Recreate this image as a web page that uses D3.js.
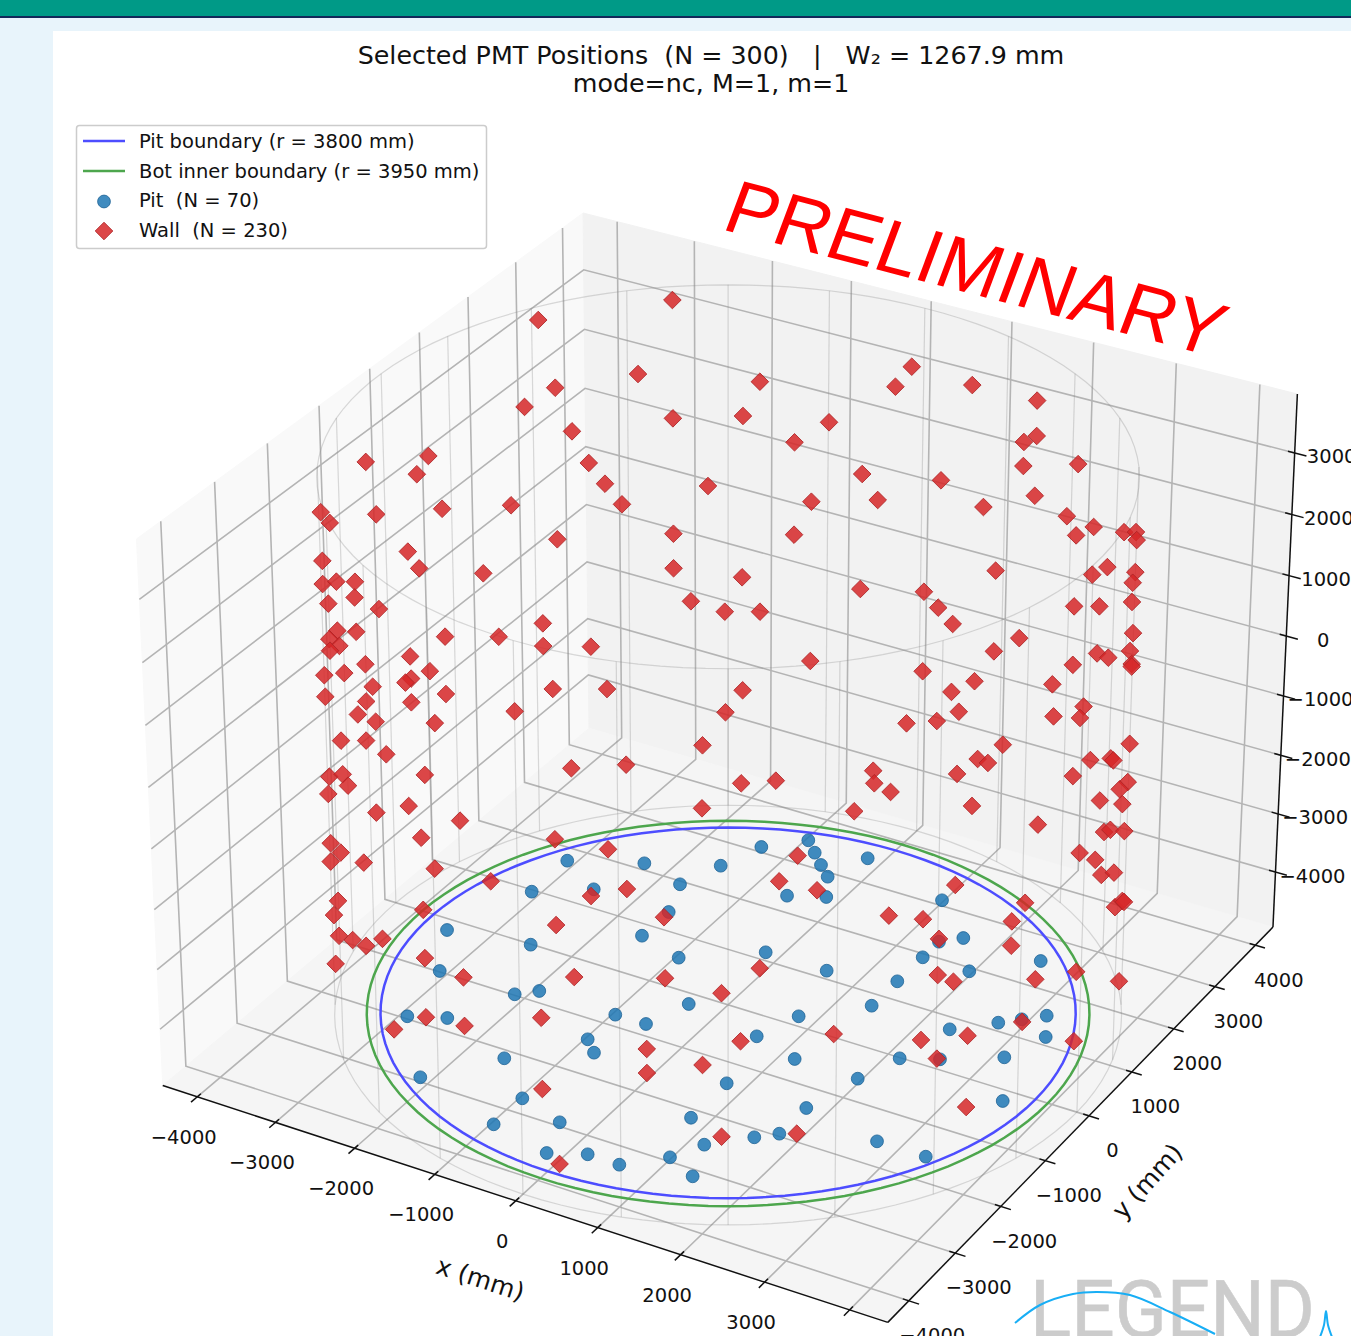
<!DOCTYPE html><html><head><meta charset="utf-8"><script src="https://cdn.jsdelivr.net/npm/d3@7"></script>
<style>html,body{margin:0;padding:0;background:#e8f4fb;overflow:hidden}svg{display:block}text{font-family:"DejaVu Sans",sans-serif;fill:#111}</style></head><body><svg id="c" width="1351" height="1336"></svg>
<script>
const titleLines=["Selected PMT Positions  (N = 300)   |   W₂ = 1267.9 mm","mode=nc, M=1, m=1"];
const legendLabels=["Pit boundary (r = 3800 mm)","Bot inner boundary (r = 3950 mm)","Pit  (N = 70)","Wall  (N = 230)"];
const xTicks=[-4000,-3000,-2000,-1000,0,1000,2000,3000,4000];
const yTicks=[-4000,-3000,-2000,-1000,0,1000,2000,3000,4000];
const zTicks=[-4000,-3000,-2000,-1000,0,1000,2000,3000];
const xyLimits=[-4445,4445];
const zLimits=[-4955,3945];
const pitRadius=3800, botRadius=3950, wallRadius=4300, wallTop=3915;
const pitX=[-967,-769,-575,-384,-182,-577,-1356,-189,-1549,-2324,-1743,-1550,-1551,977,1567,1370,-186,-3109,-3105,-2528,-3493,-2524,-3105,-2136,-1938,-963,-382,-966,-579,-2915,-2518,-969,-771,-1553,-2137,778,-969,-968,-379,787,-191,197,589,980,1172,1370,588,1371,1956,1369,2538,1369,784,590,2338,2732,2921,3123,3315,1172,2148,2535,3118,1953,1758,3511,2726,3315,1560,1756];
const pitY=[3500,3297,3097,2911,2519,2323,3104,3490,2516,2130,1936,1356,771,3106,2515,2311,1155,1743,964,1357,-210,-10,-983,-982,-789,575,-200,-790,-786,-1953,-1765,-1370,-1567,-2148,-2923,-1378,-2729,-3315,-2930,-2154,-3507,-3311,-3315,-2926,-2535,-3119,1156,1932,1932,1352,2516,770,182,-400,773,1156,1345,1546,1157,-591,-12,188,571,-594,-1374,-203,-1563,-1564,-2146,-1953];
const wallAngle=[148.9,133.4,146.3,151.4,143.7,169.5,185.0,172.1,141.1,138.6,136.0,207.0,200.1,182.4,166.9,154.0,146.3,174.6,172.1,159.2,207.0,207.5,197.5,189.7,190.0,202.8,182.4,148.9,166.9,156.6,197.8,189.8,202.9,197.0,202.7,148.9,141.1,174.7,187.0,209.7,195.1,170.3,174.6,176.0,184.9,167.0,187.1,209.2,174.7,147.4,138.6,154.0,190.1,184.3,169.5,197.7,187.5,181.5,144.5,135.7,207.2,197.4,195.0,209.6,172.0,184.9,176.0,164.7,173.2,208.3,199.9,209.3,189.6,170.3,275.9,283.6,265.6,202.8,207.1,252.7,286.2,281.1,275.9,202.9,195.1,237.3,242.5,207.0,252.8,260.4,278.5,128.2,115.3,92.0,94.6,128.2,117.8,104.9,110.1,99.7,86.8,123.0,107.5,97.2,128.2,110.1,128.2,117.9,99.8,89.4,86.9,125.6,120.5,115.2,84.3,81.6,68.8,71.4,68.7,71.4,58.5,68.8,79.1,61.1,53.4,58.5,41.1,31.4,29.6,48.2,53.4,30.3,33.5,76.5,58.5,50.7,33.6,30.8,71.4,76.5,34.0,51.0,46.7,31.3,31.2,58.4,80.1,63.6,54.9,63.1,55.9,107.5,89.4,117.8,84.3,120.4,82.9,92.0,86.8,123.9,97.4,97.2,94.5,83.0,118.0,112.7,296.5,100.4,80.1,309.4,306.9,312.1,332.7,322.4,327.6,330.2,291.3,30.1,74.3,79.2,77.2,52.2,44.2,42.9,57.5,31.4,38.7,48.3,36.4,66.2,46.2,43.3,33.7,54.8,49.4,46.8,40.6,39.3,33.4,31.0,345.6,343.0,343.0,358.5,34.1,348.2,345.6,335.3,358.4,291.4,299.1,252.7,245.0,260.4,273.4,288.8,296.5,288.8,273.4,299.1,275.9,304.3,330.1,332.7,314.6,301.7,327.6,330.2,335.3,309.5];
const wallZ=[3696,2527,2524,2334,1745,2135,2721,1941,1165,772,384,3039,2500,1743,1160,772,-8,770,382,-204,2260,1914,1410,998,755,1339,179,-1372,-985,-1370,624,177,765,330,565,-1761,-1957,-981,-509,557,-224,-1428,-1361,-1364,-994,-1958,-1127,177,-1759,-2542,-2739,-2737,-1186,-1615,-2350,-1205,-1766,-2313,-3999,-4112,-1259,-1787,-2115,-1406,-3129,-3133,-3476,-4246,-4163,-2308,-2966,-2557,-3734,-4841,985,986,16,-3615,-3597,-955,401,202,-376,-4208,-4753,-2318,-1924,-4437,-1736,-1725,-1148,3696,2330,2910,2521,1741,1752,1747,1354,965,1166,579,382,577,-202,-204,-791,-975,-984,-786,-984,-1374,-1568,-1557,-1181,2899,3108,2329,2535,1934,2521,1549,967,1549,1740,1355,2287,2808,2777,1347,957,2226,1880,-4,180,572,1564,1214,-940,-1370,745,-224,-66,684,648,-793,-2016,-1374,-1318,-1895,-1562,-2344,-2148,-2928,-2346,-3315,-2641,-3123,-2931,-3887,-4086,-4303,-4391,-3725,-4564,-4492,1760,-4866,-4179,979,598,404,14,-185,-377,-769,14,-557,-2884,-3326,-3317,-2080,-1610,-1570,-2634,-1267,-1814,-2553,-1929,-3906,-2971,-2766,-2223,-3811,-3630,-3740,-3337,-3850,-3386,-3256,-766,-956,-1350,-2520,-4806,-2129,-2710,-2514,-3670,-959,-1158,-2712,-3292,-2519,-1937,-2128,-2325,-2519,-3102,-3492,-4272,-769,-1349,-1541,-1934,-1935,-2327,-2713,-3690,-3493];
const logoCurve=[[1015,1323],[1040,1305],[1073,1294],[1097,1292],[1130,1295],[1170,1312],[1215,1334]];
const logoPeak=[[1320,1337],[1324,1325],[1326,1311],[1328,1325],[1332,1337]];

// matplotlib-style 3D view, elev 30 azim -60, dist 10
const boxA=1.190476, boxZ=0.892857, DIST=10, SCALE=6977, CX=728.1, CY=741;
const nx=d3.scaleLinear().domain(xyLimits).range([-boxA/2,boxA/2]);
const nz=d3.scaleLinear().domain(zLimits).range([-boxZ/2,boxZ/2]);
const sxScale=d3.scaleLinear().domain([-1,1]).range([CX-SCALE,CX+SCALE]);
const syScale=d3.scaleLinear().domain([-1,1]).range([CY+SCALE,CY-SCALE]);
const U=[.8660254,.5,0],V=[-.25,.4330127,.8660254],W=[.4330127,-.75,.5];
const dot=(a,b)=>a[0]*b[0]+a[1]*b[1]+a[2]*b[2];
function P(x,y,z){const r=[nx(x),nx(y),nz(z)],d=DIST-dot(r,W);return [sxScale(dot(r,U)/d),syScale(dot(r,V)/d)];}
const [LO,HI]=xyLimits,[ZLO,ZHI]=zLimits;
const svg=d3.select("#c");
const line=d3.line();
// page
svg.append("rect").attr("width",1351).attr("height",1336).attr("fill","#e8f4fb");
svg.append("rect").attr("x",0).attr("y",0).attr("width",1351).attr("height",16).attr("fill","#009a87");
svg.append("rect").attr("x",0).attr("y",16).attr("width",1351).attr("height",2).attr("fill","#12285a");
svg.append("rect").attr("x",53).attr("y",31).attr("width",1298).attr("height",1305).attr("fill","#fff");
// panes
const panes=[
 {c:[[LO,LO,ZLO],[LO,HI,ZLO],[LO,HI,ZHI],[LO,LO,ZHI]],f:"#f9f9f9"},
 {c:[[LO,HI,ZLO],[HI,HI,ZLO],[HI,HI,ZHI],[LO,HI,ZHI]],f:"#f2f2f2"},
 {c:[[LO,LO,ZLO],[HI,LO,ZLO],[HI,HI,ZLO],[LO,HI,ZLO]],f:"#f5f5f5"}];
svg.append("g").selectAll("path").data(panes).join("path").attr("d",d=>line(d.c.map(p=>P(...p)))+"Z").attr("fill",d=>d.f).attr("stroke",d=>d.f).attr("stroke-width",1);
// grid
const grid=svg.append("g").attr("fill","none").attr("stroke","#b4b4b4").attr("stroke-width",1.6);
const gl=a=>grid.append("path").attr("d",line(a.map(p=>P(...p))));
xTicks.forEach(t=>gl([[t,LO,ZLO],[t,HI,ZLO],[t,HI,ZHI]]));
yTicks.forEach(t=>gl([[HI,t,ZLO],[LO,t,ZLO],[LO,t,ZHI]]));
zTicks.forEach(t=>gl([[LO,LO,t],[LO,HI,t],[HI,HI,t]]));
// faint cylinder
const cyl=svg.append("g").attr("fill","none").attr("stroke","#888").attr("stroke-opacity",.3).attr("stroke-width",1.2);
const ring=(r,z)=>d3.range(0,361,3).map(a=>P(r*Math.cos(a*Math.PI/180),r*Math.sin(a*Math.PI/180),z));
cyl.append("path").attr("d",line(ring(wallRadius,wallTop)));
cyl.append("path").attr("d",line(ring(wallRadius,ZLO)));
d3.range(0,360,15).forEach(a=>{const c=wallRadius*Math.cos(a*Math.PI/180),s=wallRadius*Math.sin(a*Math.PI/180);cyl.append("path").attr("d",line([P(c,s,ZLO),P(c,s,wallTop)]));});
// boundaries
svg.append("path").attr("d",line(ring(botRadius,ZLO))).attr("fill","none").attr("stroke","#4da64d").attr("stroke-width",2.5);
svg.append("path").attr("d",line(ring(pitRadius,ZLO))).attr("fill","none").attr("stroke","#4d4dff").attr("stroke-width",2.5);
// axes
const ax=svg.append("g").attr("fill","none").attr("stroke","#111").attr("stroke-width",1.5);
[[[LO,LO,ZLO],[HI,LO,ZLO]],[[HI,LO,ZLO],[HI,HI,ZLO]],[[HI,HI,ZLO],[HI,HI,ZHI]]].forEach(a=>ax.append("path").attr("d",line(a.map(p=>P(...p)))));
const inT=70, outT=120, minus=t=>t<0?"\u2212"+(-t):""+t;
const labels=svg.append("g").attr("font-size",19.5).attr("text-anchor","middle");
const tl=(p,dx,dy,t)=>labels.append("text").attr("x",p[0]+dx).attr("y",p[1]+dy).attr("dy","0.36em").text(minus(t));
xTicks.forEach(t=>{ax.append("path").attr("d",line([P(t,LO+inT,ZLO),P(t,LO-outT,ZLO)]));tl(P(t,LO,ZLO),-13.5,40,t);});
yTicks.forEach(t=>{ax.append("path").attr("d",line([P(HI-inT,t,ZLO),P(HI+outT,t,ZLO)]));tl(P(HI,t,ZLO),23.5,34.3,t);});
zTicks.forEach(t=>{ax.append("path").attr("d",line([P(HI-80,HI,t),P(HI+140,HI,t)]));tl(P(HI,HI,t),37,3.5,t);});
// axis titles
const at=(x,y,r,s)=>svg.append("text").attr("transform",`translate(${x},${y}) rotate(${r})`).attr("text-anchor","middle").attr("dy","0.3em").attr("font-size",25).text(s);
at(480,1280,18,"x (mm)");at(1148,1182,-48,"y (mm)");
// markers
const pts=pitX.map((x,i)=>P(x,pitY[i],ZLO));
svg.append("g").selectAll("circle").data(pts).join("circle").attr("cx",d=>d[0]).attr("cy",d=>d[1]).attr("r",6.4).attr("fill","#1f77b4").attr("fill-opacity",.85).attr("stroke","#1f6396").attr("stroke-width",.8);
const diamond=d3.symbol().type(d3.symbolSquare).size(155);
const wpts=wallAngle.map((a,i)=>P(wallRadius*Math.cos(a*Math.PI/180),wallRadius*Math.sin(a*Math.PI/180),wallZ[i]));
svg.append("g").selectAll("path").data(wpts).join("path").attr("d",diamond).attr("transform",d=>`translate(${d[0]},${d[1]}) rotate(45)`).attr("fill","#d62728").attr("fill-opacity",.85).attr("stroke","#ad2426").attr("stroke-width",.8);
// title
svg.append("g").attr("font-size",25.35).attr("text-anchor","middle").selectAll("text").data(titleLines).join("text").attr("x",711).attr("y",(d,i)=>64+i*28).style("white-space","pre").attr("xml:space","preserve").text(d=>d);
// legend
const lg=svg.append("g");
lg.append("rect").attr("x",76.5).attr("y",125.5).attr("width",410).attr("height",123).attr("rx",3).attr("fill","#fff").attr("fill-opacity",.9).attr("stroke","#ccc").attr("stroke-width",1.5);
lg.selectAll("text").data(legendLabels).join("text").attr("x",139).attr("y",(d,i)=>148+i*29.5).attr("font-size",19.5).style("white-space","pre").attr("xml:space","preserve").text(d=>d);
lg.append("path").attr("d",line([[83,141],[125,141]])).attr("stroke","#4d4dff").attr("stroke-width",2.5);
lg.append("path").attr("d",line([[83,171],[125,171]])).attr("stroke","#4da64d").attr("stroke-width",2.5);
lg.append("circle").attr("cx",104).attr("cy",201.5).attr("r",6.4).attr("fill","#1f77b4").attr("fill-opacity",.85).attr("stroke","#1f6396").attr("stroke-width",.8);
lg.append("path").attr("d",diamond).attr("transform","translate(104,231) rotate(45)").attr("fill","#d62728").attr("fill-opacity",.85).attr("stroke","#ad2426").attr("stroke-width",.8);
// stamp
svg.append("text").attr("transform","translate(720,229) rotate(14.5) skewX(-6)").style("font-family","'Liberation Sans'").style("fill","#ff0000").attr("font-size",75.5).text("PRELIMINARY");
// logo
svg.append("text").attr("x",1030).attr("y",1337).style("font-family","Roboto").style("fill","#cccccc").attr("stroke","#ccc").attr("stroke-width",.6).attr("font-size",80).attr("textLength",285).attr("lengthAdjust","spacingAndGlyphs").text("LEGEND");
const curve=d3.line().curve(d3.curveCatmullRom);
svg.append("path").attr("d",curve(logoCurve)).attr("fill","none").attr("stroke","#18aef5").attr("stroke-width",2);
svg.append("path").attr("d",curve(logoPeak)).attr("fill","none").attr("stroke","#18aef5").attr("stroke-width",2);
</script></body></html>
